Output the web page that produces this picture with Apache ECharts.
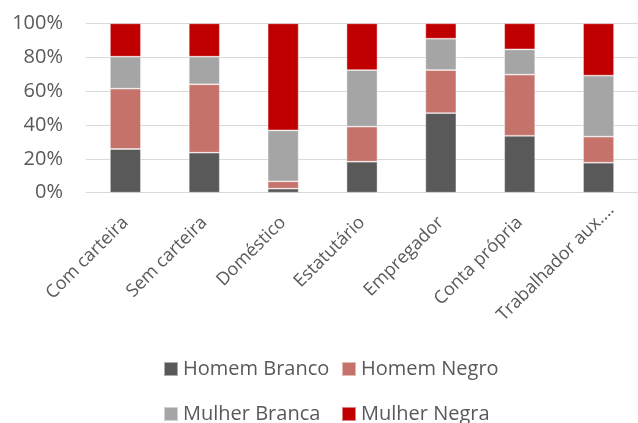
<!DOCTYPE html>
<html>
<head>
<meta charset="utf-8">
<script src="https://cdn.jsdelivr.net/npm/echarts@6/dist/echarts.min.js"></script>
<style>
  html, body { margin: 0; padding: 0; background: #ffffff; }
  #chart { width: 638px; height: 423px; }
</style>
</head>
<body>
<div id="chart"></div>
<script>
// Occupation categories
const categories = ['Com carteira', 'Sem carteira', 'Doméstico', 'Estatutário', 'Empregador', 'Conta própria', 'Trabalhador aux....'];

// Share of each group within the category (%)
const homemBranco  = [25.8, 23.6, 2.4, 18.3, 47.0, 33.6, 17.7];
const homemNegro   = [35.6, 40.4, 4.3, 20.7, 25.4, 36.1, 15.4];
const mulherBranca = [18.9, 16.3, 30.1, 33.4, 18.5, 14.9, 36.0];
const mulherNegra  = [19.7, 19.7, 63.2, 27.6, 9.1, 15.4, 30.9];

const seriesNames = ['Homem Branco', 'Homem Negro', 'Mulher Branca', 'Mulher Negra'];
const seriesValues = [homemBranco, homemNegro, mulherBranca, mulherNegra];
const seriesColors = ['#595959', '#C5736A', '#A5A5A5', '#C00000'];

const font = '"Open Sans", "DejaVu Sans", sans-serif';
const textColor = '#595959';

// The truncated last label sits a little further along its diagonal
const categoryItems = categories.map((c, i) => (
  i === categories.length - 1
    ? { value: c, textStyle: { padding: [22, -18, 0, 0] } }
    : c
));

const chart = echarts.init(document.getElementById('chart'), null, { renderer: 'canvas' });

chart.setOption({
  animation: false,
  backgroundColor: '#ffffff',
  textStyle: { fontFamily: font },
  grid: { left: 86, top: 23.3, width: 557, height: 169.4, containLabel: false },
  legend: {
    left: 163,
    top: 350.5,
    padding: 0,
    width: 360,
    itemWidth: 14,
    itemHeight: 14,
    itemGap: 8,
    icon: 'rect',
    data: seriesNames,
    textStyle: {
      color: textColor,
      fontSize: 20,
      fontFamily: font,
      width: 150,
      lineHeight: 37
    }
  },
  xAxis: {
    type: 'category',
    data: categoryItems,
    axisLine: { show: true, lineStyle: { color: '#D9D9D9', width: 1 } },
    axisTick: { show: false },
    axisLabel: {
      rotate: 45,
      interval: 0,
      margin: 27,
      padding: [22, 0, 0, 0],
      color: textColor,
      fontSize: 18,
      fontFamily: font
    }
  },
  yAxis: {
    type: 'value',
    min: 0,
    max: 100,
    interval: 20,
    axisLine: { show: false },
    axisTick: { show: false },
    splitLine: { show: true, lineStyle: { color: '#D9D9D9', width: 1 } },
    axisLabel: {
      margin: 23,
      color: textColor,
      fontSize: 20,
      fontFamily: font,
      formatter: '{value}%'
    }
  },
  series: seriesNames.map((name, i) => ({
    name: name,
    type: 'bar',
    stack: 'total',
    barWidth: 31,
    data: seriesValues[i],
    itemStyle: {
      color: seriesColors[i],
      borderColor: 'rgba(255,255,255,0.5)',
      borderWidth: 0.8
    }
  }))
});
</script>
</body>
</html>
